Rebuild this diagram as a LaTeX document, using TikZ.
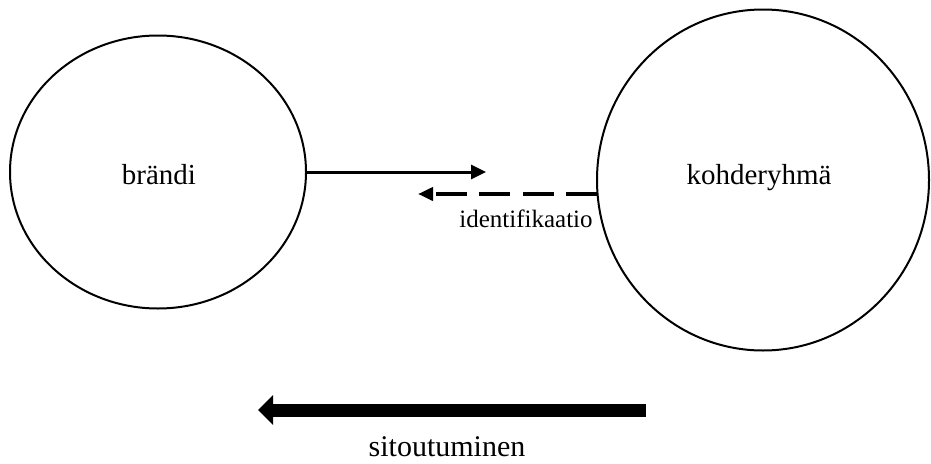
\documentclass[tikz,border=0pt]{standalone}
\usepackage{fontspec}
\setmainfont{Liberation Serif}
\usetikzlibrary{shapes.geometric,arrows.meta}
\begin{document}
\begin{tikzpicture}[x=1pt,y=-1pt,
  ell/.style={draw=black, ellipse, line width=2pt, inner sep=0pt},
  lbl/.style={inner sep=0pt, font=\fontsize{29}{34}\selectfont},
  solidarrow/.style={line width=3pt, -{Triangle[length=15pt,width=14pt]}},
  dasharrow/.style={line width=4pt, dash pattern=on 31pt off 12.5pt, -{Triangle[length=15pt,width=13pt]}},
  bigarrow/.style={line width=13pt, -{Triangle[length=15pt,width=29pt]}}]
\useasboundingbox (0,0) rectangle (931,463);
\node[ell, minimum width=296pt, minimum height=273pt] (brand) at (158,172) {};
\node[ell, minimum width=332pt, minimum height=341pt] (kohde) at (763,180) {};
\node[lbl] (brandtxt) at (159,175) {brändi};
\node[lbl] (kohdetxt) at (759,178) {kohderyhmä};
\coordinate (s1end) at (486,172);
\coordinate (d1start) at (597,194);
\coordinate (d1end) at (418,194);
\draw[solidarrow] (brand.east) -- (s1end);
\draw[dasharrow] (d1start) -- (d1end);
\node[inner sep=0pt, font=\fontsize{25}{30}\selectfont] (ident) at (526,219) {identifikaatio};
\coordinate (bstart) at (646,410);
\coordinate (bend) at (258,410);
\draw[bigarrow] (bstart) -- (bend);
\node[inner sep=0pt, font=\fontsize{30}{36}\selectfont] (sitou) at (447,447) {sitoutuminen};
\end{tikzpicture}
\end{document}
